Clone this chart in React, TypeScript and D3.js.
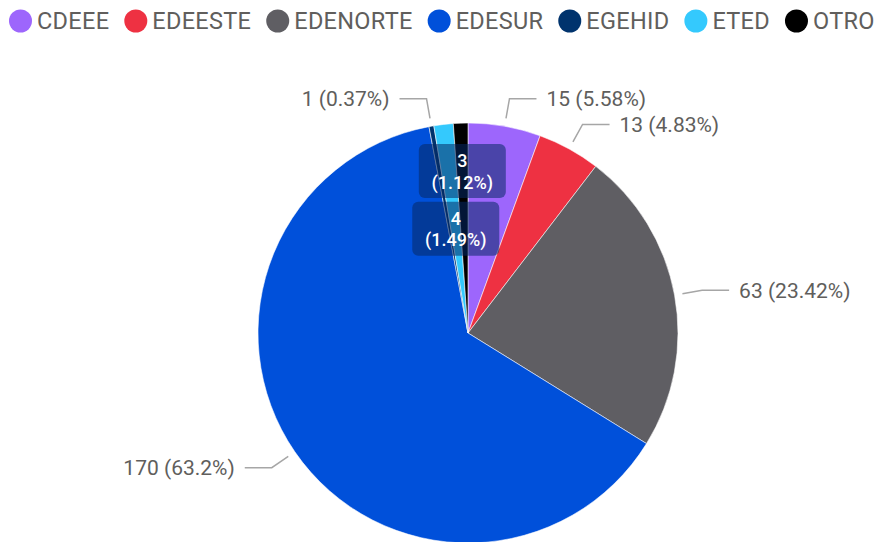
import React, { useEffect, useRef } from 'react';
import * as d3 from 'd3';

// slice data, in drawing order (clockwise from 12 o'clock)
const categories = ['CDEEE', 'EDEESTE', 'EDENORTE', 'EDESUR', 'EGEHID', 'ETED', 'OTRO'];
const counts = [15, 13, 63, 170, 1, 4, 3];
const colors = ['#9D66FC', '#EE3142', '#5F5E63', '#0050DA', '#00336D', '#34C9FD', '#000000'];
// which slices get their label inside the pie
const insideLabels = ['ETED', 'OTRO'];

const W = 881;
const H = 542;

export default function App() {
  const ref = useRef<SVGSVGElement>(null);

  useEffect(() => {
    const svg = d3.select(ref.current);
    svg.selectAll('*').remove();

    const font = 'Roboto, sans-serif';
    const textGray = '#605E5C';

    // legend
    const legend = svg.append('g');
    let lx = 9;
    categories.forEach((c, i) => {
      const r = 11.5;
      legend.append('circle')
        .attr('cx', lx + r).attr('cy', 21).attr('r', r)
        .attr('fill', colors[i]);
      const t = legend.append('text')
        .attr('x', lx + 2 * r + 5).attr('y', 28.5)
        .attr('font-family', font).attr('font-size', 23.5)
        .attr('letter-spacing', 0.3)
        .attr('fill', textGray)
        .text(c);
      const w = (t.node() as SVGTextElement).getComputedTextLength();
      lx += 2 * r + 5 + w + 15;
    });

    // pie
    const cx = 468, cy = 333, R = 210;
    const total = d3.sum(counts);
    const data = categories.map((c, i) => ({ name: c, value: counts[i], color: colors[i] }));
    const pie = d3.pie<any>().sort(null).value(d => d.value);
    const arcs = pie(data);
    const arc = d3.arc<any>().innerRadius(0).outerRadius(R);

    const g = svg.append('g').attr('transform', `translate(${cx},${cy})`);
    g.selectAll('path.slice')
      .data(arcs)
      .join('path')
      .attr('class', 'slice')
      .attr('d', arc)
      .attr('fill', d => d.data.color)
      .attr('stroke', '#ffffff')
      .attr('stroke-opacity', 0.7)
      .attr('stroke-width', 0.8);

    const pct = (v: number) => `${+((v / total) * 100).toFixed(2)}%`;

    // outside labels with leader lines
    const outer = arcs.filter(a => !insideLabels.includes(a.data.name));
    outer.forEach(a => {
      const mid = (a.startAngle + a.endAngle) / 2;
      const s = Math.sin(mid), c = Math.cos(mid);
      const p0 = [(R + 8) * s, -(R + 8) * c];
      const p1 = [(R + 28) * s, -(R + 28) * c];
      const dir = s >= 0 ? 1 : -1;
      const p2 = [p1[0] + dir * 27, p1[1]];
      g.append('polyline')
        .attr('points', [p0, p1, p2].map(p => p.join(',')).join(' '))
        .attr('fill', 'none')
        .attr('stroke', '#A6A6A6')
        .attr('stroke-width', 1.5);
      g.append('text')
        .attr('x', p2[0] + dir * 10)
        .attr('y', p2[1])
        .attr('dy', '0.36em')
        .attr('text-anchor', dir > 0 ? 'start' : 'end')
        .attr('font-family', font)
        .attr('font-size', 21)
        .attr('fill', textGray)
        .text(`${a.data.value} (${pct(a.data.value)})`);
    });

    // inside labels in dark boxes, pushed outward when they collide
    const boxW = 87, boxH = 54;
    let prevTop: number | null = null;
    const inner = arcs.filter(a => insideLabels.includes(a.data.name));
    inner.forEach(a => {
      const mid = (a.startAngle + a.endAngle) / 2;
      const s = Math.sin(mid), c = Math.cos(mid);
      let r = R * 0.5;
      let x = r * s, y = -r * c;
      if (prevTop !== null) {
        while (y + boxH / 2 > prevTop - 3) {
          r += 1;
          x = r * s; y = -r * c;
        }
      }
      prevTop = y - boxH / 2;
      const lg = g.append('g').attr('transform', `translate(${x},${y})`);
      lg.append('rect')
        .attr('x', -boxW / 2).attr('y', -boxH / 2)
        .attr('width', boxW).attr('height', boxH)
        .attr('rx', 6)
        .attr('fill', 'rgb(5,40,100)')
        .attr('fill-opacity', 0.55);
      [String(a.data.value), `(${pct(a.data.value)})`].forEach((line, k) => {
        lg.append('text')
          .attr('x', 0)
          .attr('y', k === 0 ? -10.5 : 11)
          .attr('dy', '0.36em')
          .attr('text-anchor', 'middle')
          .attr('font-family', font)
          .attr('font-size', 18)
          .attr('font-weight', 500)
          .attr('fill', '#ffffff')
          .text(line);
      });
    });
  }, []);

  return (
    <svg
      ref={ref}
      width={W}
      height={H}
      style={{ position: 'absolute', left: 0, top: 0, background: '#ffffff', display: 'block' }}
    />
  );
}
